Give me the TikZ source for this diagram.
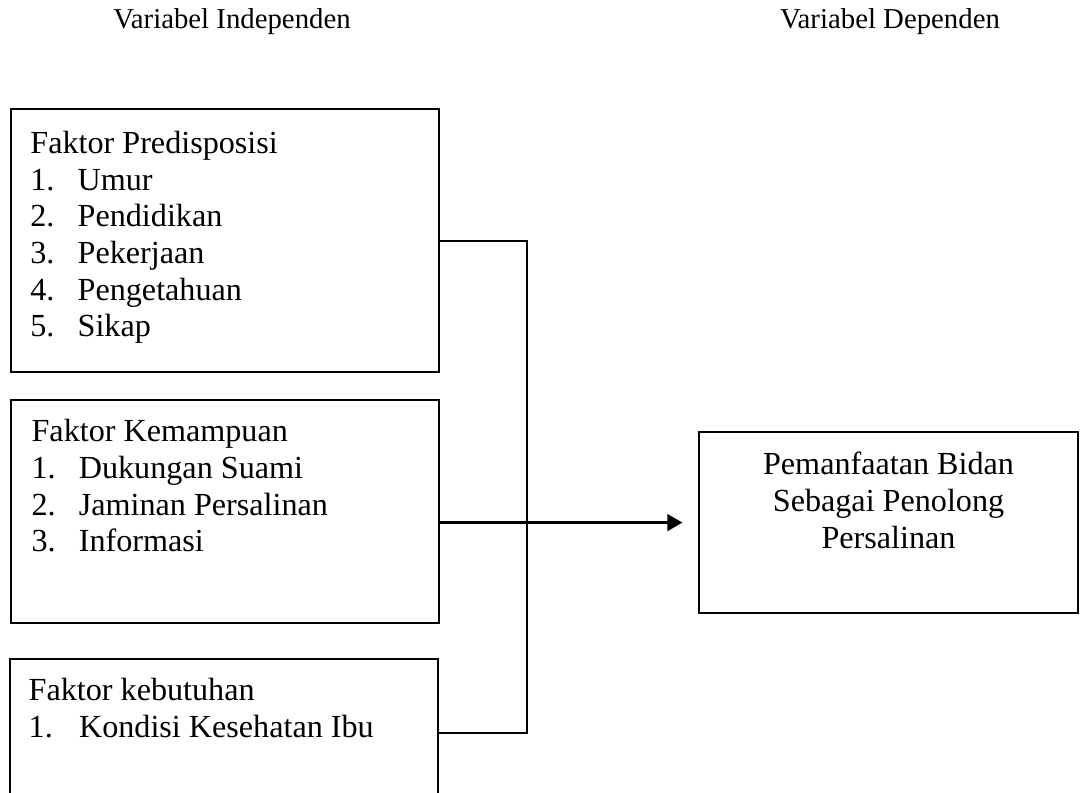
\documentclass[tikz,border=0pt]{standalone}
\usepackage{fontspec}
\setmainfont{Liberation Serif}
\usetikzlibrary{positioning,arrows.meta}
\newcommand{\nomor}[2]{\makebox[#1][l]{#2}}
\begin{document}
\begin{tikzpicture}[x=0.4167pt,y=-0.4167pt,
  faktor/.style={draw,line width=0.9pt,anchor=north west,inner sep=0pt,minimum width=178.3pt},
  isi/.style={anchor=north west,align=left,inner sep=0pt,font=\fontsize{13.4}{15.3}\selectfont},
  judul/.style={inner sep=0pt,font=\fontsize{12}{13.8}\selectfont}]
  \useasboundingbox (0,0) rectangle (1080,792);
  \clip (0,0) rectangle (1080,792);
  \node[judul] (indep) at (232,22) {Variabel Independen};
  \node[judul] (dep) at (890,22) {Variabel Dependen};
  % kotak faktor
  \node[faktor,minimum height=109.6pt] (pred) at (10,108) {};
  \node[isi,below right=9.4pt and 8.3pt of pred.north west] (predisi)
    {Faktor Predisposisi\\ \nomor{19.7pt}{1.}Umur\\ \nomor{19.7pt}{2.}Pendidikan\\
     \nomor{19.7pt}{3.}Pekerjaan\\ \nomor{19.7pt}{4.}Pengetahuan\\ \nomor{19.7pt}{5.}Sikap};
  \node[faktor,minimum height=92.9pt] (mampu) at (10,399) {};
  \node[isi,below right=8.3pt and 8.8pt of mampu.north west] (mampuisi)
    {Faktor Kemampuan\\ \nomor{19.7pt}{1.}Dukungan Suami\\
     \nomor{19.7pt}{2.}Jaminan Persalinan\\ \nomor{19.7pt}{3.}Informasi};
  \node[faktor,minimum height=61.7pt] (butuh) at (9,658) {};
  \node[isi,below right=8.3pt and 8pt of butuh.north west] (butuhisi)
    {Faktor kebutuhan\\ \nomor{21pt}{1.}Kondisi Kesehatan Ibu};
  % kotak hasil
  \node[draw,line width=0.9pt,anchor=north west,inner sep=0pt,
    minimum width=157.9pt,minimum height=75.4pt] (hasil) at (698,431) {};
  \node[isi,anchor=north,align=center,below=8.6pt of hasil.north] (hasilisi)
    {Pemanfaatan Bidan\\ Sebagai Penolong\\ Persalinan};
  % garis penghubung
  \draw[line width=0.9pt] (pred.east) -- ++(87,0) |- (butuh.east);
  \draw[line width=1pt,-{Triangle[length=6.3pt,width=7pt]},shorten >=6.5pt]
    (mampu.east |- hasil.west) -- (hasil.west);
\end{tikzpicture}
\end{document}
